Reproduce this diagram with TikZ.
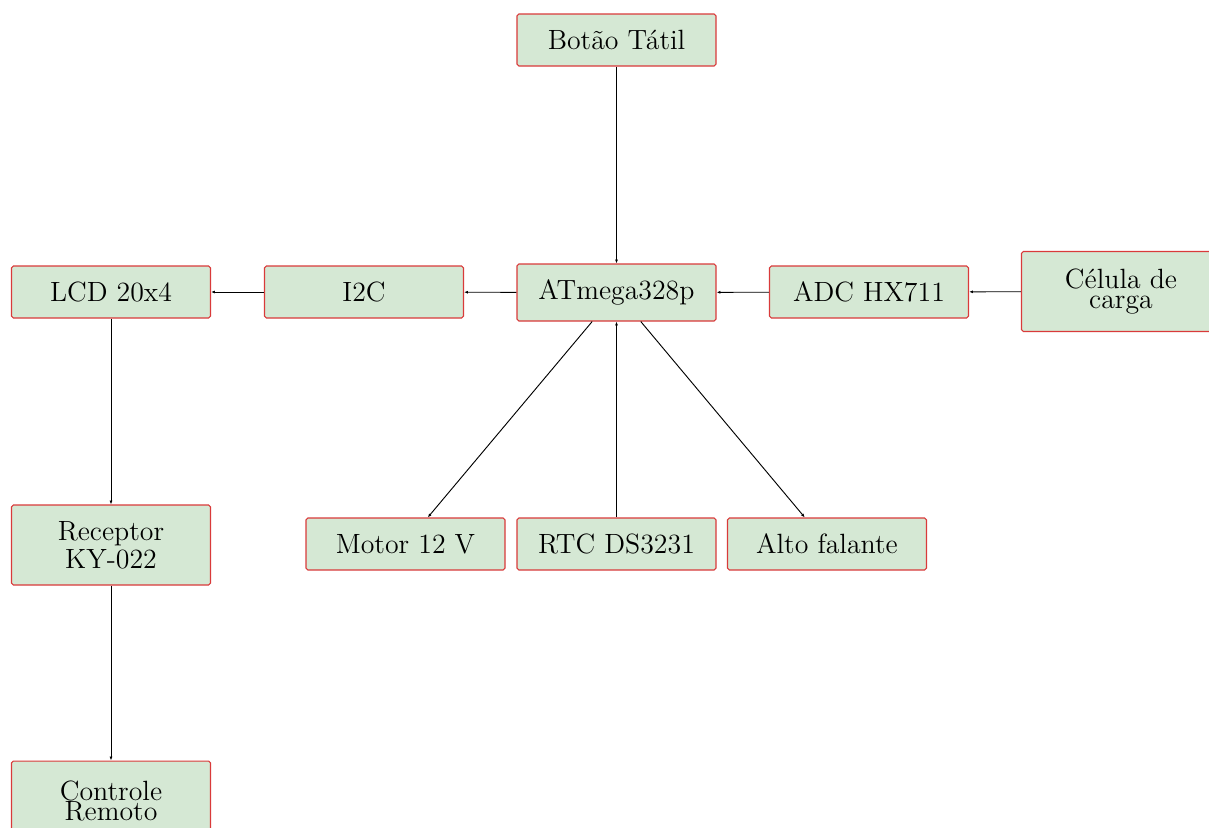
\documentclass[tikz,border=0pt]{standalone}
\usetikzlibrary{arrows.meta}
\definecolor{boxfill}{HTML}{D5E8D4}
\definecolor{boxline}{HTML}{D93A3A}
\begin{document}
\begin{tikzpicture}[x=0.431pt,y=-0.431pt,
  blk/.style={draw=boxline,fill=boxfill,rounded corners=0.8pt,line width=0.45pt,
    minimum width=199*0.431pt,minimum height=52*0.431pt,inner sep=2pt,
    font=\large,align=center},
  tall/.style={minimum height=80*0.431pt},
  conn/.style={-{Latex[length=1.7pt,width=1.3pt]},line width=0.4pt}]
\useasboundingbox (0,0) rectangle (1209,827);
\clip (0,0) rectangle (1209,827);
\node[blk] (bot) at (616.5,40) {Botão Tátil};
\node[blk,minimum height=57*0.431pt] (atm) at (616.5,292.5) {ATmega328p};
\node[blk] (lcd) at (111,292) {LCD 20x4};
\node[blk] (i2c) at (364,292) {I2C};
\node[blk] (adc) at (869,292) {ADC HX711};
\node[blk,tall] (cel) at (1121,291.5) {Célula de\\[-5.2pt]carga};
\node[blk] (mot) at (405.5,544) {Motor 12 V};
\node[blk] (rtc) at (616.5,544) {RTC DS3231};
\node[blk] (alt) at (827,544) {Alto falante};
\node[blk,tall] (rec) at (111,545) {Receptor\\[-2pt]KY-022};
\node[blk,tall] (ctl) at (111,801) {Controle\\[-5.2pt]Remoto};
\draw[conn] (bot) -- (atm);
\draw[conn] (adc) -- (atm);
\draw[conn] (cel) -- (adc);
\draw[conn] (atm) -- (i2c);
\draw[conn] (i2c) -- (lcd);
\draw[conn] (lcd) -- (rec);
\draw[conn] (rec) -- (ctl);
\draw[conn] (atm) -- (mot);
\draw[conn] (rtc) -- (atm);
\draw[conn] (atm) -- (alt);
\end{tikzpicture}
\end{document}
